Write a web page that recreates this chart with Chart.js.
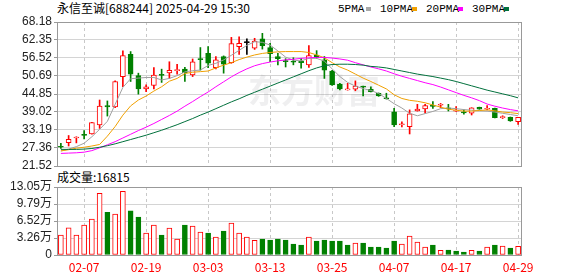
<!DOCTYPE html>
<html>
<head>
<meta charset="utf-8">
<script src="https://cdn.jsdelivr.net/npm/chart.js@4.4.1/dist/chart.umd.min.js"></script>
<style>
  body { margin: 0; background: #fff; width: 578px; height: 276px; overflow: hidden; position: relative; }
  canvas { position: absolute; left: 0; }
  #kline { top: 0; }
  #vol { top: 176px; }
  .txt { position: absolute; font: 12px "Noto Sans CJK SC", sans-serif; color: #000; white-space: nowrap; line-height: 14px; }
  .leg { position: absolute; font: 11px "Liberation Mono", monospace; color: #000; line-height: 14px; top: 2px; }
  .sq { position: absolute; width: 5px; height: 4px; top: 7px; }
</style>
</head>
<body>
<div class="txt" style="left:57px; top:1px;">永信至诚[688244] 2025-04-29 15:30</div>
<div class="leg" style="left:338px;">5PMA</div><div class="sq" style="left:366px; background:#a8a8a8;"></div>
<div class="leg" style="left:380px;">10PMA</div><div class="sq" style="left:412px; background:#f0a000;"></div>
<div class="leg" style="left:426px;">20PMA</div><div class="sq" style="left:458px; background:#ff00ff;"></div>
<div class="leg" style="left:472px;">30PMA</div><div class="sq" style="left:504px; background:#00703c;"></div>
<div class="txt" style="left:57px; top:170px;">成交量:16815</div>
<canvas id="kline" width="578" height="176"></canvas>
<canvas id="vol" width="578" height="100"></canvas>
<script>
// trading days shown
const dates = ['01-27','02-05','02-06','02-07','02-10','02-11','02-12','02-13','02-14','02-17',
  '02-18','02-19','02-20','02-21','02-24','02-25','02-26','02-27','02-28','03-03',
  '03-04','03-05','03-06','03-07','03-10','03-11','03-12','03-13','03-14','03-17',
  '03-18','03-19','03-20','03-21','03-24','03-25','03-26','03-27','03-28','03-31',
  '04-01','04-02','04-03','04-07','04-08','04-09','04-10','04-11','04-14','04-15',
  '04-16','04-17','04-18','04-21','04-22','04-23','04-24','04-25','04-28','04-29'];

const openP = [27.9,29.1,30.6,31.8,31.9,34.8,41.1,40.7,50.5,57.7,
  50.8,46.5,47.6,51.1,51.7,52.4,52.9,51.0,56.3,58.0,
  53.4,57.0,55.0,60.2,61.5,59.7,62.7,59.9,57.0,55.5,
  55.4,55.5,54.3,57.5,55.9,52.3,48.1,46.2,46.4,47.3,
  46.4,45.1,43.35,39.1,34.9,34.3,39.35,40.0,41.0,41.2,
  40.4,39.3,39.1,38.6,40.5,39.9,40.2,37.2,37.3,35.9];
const highP = [28.9,31.4,31.0,33.0,35.7,42.9,42.6,49.1,58.8,58.6,
  51.6,47.8,53.4,52.9,55.3,54.5,53.5,56.2,59.9,60.2,
  57.0,57.2,63.2,63.4,62.7,62.9,64.5,61.3,58.0,56.3,
  56.6,56.4,60.5,58.9,57.0,52.5,48.3,48.3,49.1,47.4,
  47.2,45.2,45.1,40.2,35.8,39.7,41.5,41.5,42.4,41.8,
  41.5,40.8,39.7,40.4,40.6,41.1,40.3,37.8,37.4,37.3];
const lowP = [27.2,28.0,29.0,30.3,31.8,33.7,37.7,40.4,47.2,48.9,
  44.8,45.6,46.5,48.6,49.9,51.3,48.9,50.5,52.6,53.4,
  53.0,51.6,54.8,57.7,57.7,59.3,59.4,55.3,54.3,53.6,
  54.3,53.2,53.5,56.4,49.9,47.6,46.2,46.1,45.9,44.2,
  45.5,44.1,43.2,34.3,34.2,31.9,39.3,38.6,40.2,40.4,
  39.35,39.2,38.3,38.05,39.9,39.7,37.1,36.9,36.0,35.0];
const closeP = [27.6,30.2,30.7,31.4,35.6,40.9,40.7,48.9,57.3,51.3,
  46.5,47.2,51.0,50.9,52.5,52.75,51.8,55.3,56.0,54.8,
  55.9,54.5,61.2,61.3,61.5,62.0,60.5,57.9,56.3,55.35,
  55.2,55.0,57.3,56.6,52.6,47.8,46.5,46.3,47.45,47.1,
  45.6,44.2,43.3,34.8,35.1,38.4,40.0,41.1,40.85,41.3,
  40.0,39.4,38.7,40.4,39.95,40.05,37.2,37.35,36.1,37.3];

const ma5 = [26.4,27.0,27.8,28.9,31.0,33.4,36.0,41.5,47.0,49.8,
  50.0,50.2,50.2,49.4,49.9,50.8,52.0,52.4,52.6,54.1,
  54.8,55.9,57.4,59.0,60.6,61.8,61.6,60.7,58.8,56.8,
  55.8,55.6,56.4,56.4,55.5,53.0,50.5,48.6,47.4,46.6,
  46.0,45.0,43.4,41.7,40.3,38.6,37.8,38.5,39.2,40.1,
  40.3,40.1,39.8,39.6,39.4,39.3,39.0,38.6,38.2,37.8];
const ma10 = [26.4,26.8,27.3,27.6,28.0,28.5,31.2,34.3,38.0,41.0,
  42.9,44.2,45.8,47.2,49.0,49.9,51.5,51.9,52.1,52.3,
  53.3,54.2,55.0,56.0,56.8,57.5,58.0,58.3,58.5,58.6,
  58.6,58.6,58.3,57.5,56.6,55.0,53.6,52.6,51.3,50.0,
  48.9,47.7,46.5,44.6,43.4,42.8,42.5,42.0,41.3,40.6,
  39.9,39.6,39.3,39.3,39.5,39.7,39.4,39.0,38.8,38.5];
const ma20 = [25.6,25.7,25.8,26.0,26.5,27.4,28.4,29.4,30.6,31.8,
  33.0,34.1,35.3,36.6,37.9,39.3,40.9,42.4,44.0,45.5,
  47.2,48.8,50.4,51.8,53.0,54.0,54.7,55.2,55.6,55.9,
  56.1,56.4,56.6,56.7,56.7,56.5,56.2,55.8,55.0,54.3,
  53.6,53.0,52.3,51.4,50.6,49.9,49.2,48.5,47.9,47.1,
  46.2,45.3,44.4,43.6,42.7,41.6,40.9,40.3,39.8,39.4];
const ma30 = [26.9,26.9,26.9,27.0,27.2,27.6,28.1,28.7,29.4,30.1,
  30.8,31.5,32.3,33.1,34.0,34.9,35.9,36.9,38.0,39.0,
  40.1,41.2,42.3,43.3,44.4,45.4,46.4,47.4,48.4,49.4,
  50.4,51.4,52.4,53.3,54.0,54.4,54.5,54.5,54.4,54.2,
  53.8,53.6,53.3,52.8,52.3,51.8,51.3,50.9,50.5,50.0,
  49.5,48.9,48.2,47.5,46.8,46.1,45.5,44.9,44.3,43.6];

const volume = [38200,52200,38200,57300,68800,118400,82100,78300,122200,84700,
  72600,42000,57300,38200,51600,30600,57300,55400,43900,42000,
  34400,45800,61100,42000,34400,28000,30600,28600,30600,28600,
  21000,19100,34400,26700,28600,26700,26700,19100,22900,22900,
  15300,15300,13400,26700,21000,36300,24800,15300,19100,8900,
  9500,7600,5700,8900,7600,15300,19100,17200,13400,16815];

const priceTicks = [21.52,27.36,33.19,39.02,44.85,50.69,56.52,62.35,68.18];
const volTicks = [0,32625,65250,97875,130500];
const volTickLabels = ['0','3.26万','6.52万','9.79万','13.05万'];

const RED = '#ff0000', GREEN = '#008000', BLACK = '#000000';
const candleColor = closeP.map((c, i) => c > openP[i] ? RED : (c < openP[i] ? GREEN : BLACK));
const volColor = closeP.map((c, i) => (i === 0 || c >= closeP[i - 1]) ? RED : GREEN);
const axisFont = { family: '"Liberation Sans", "Noto Sans CJK SC", sans-serif', size: 12 };
const showIdx = i => i % 8 === 3;

const framePlugin = {
  id: 'frame',
  afterDraw(chart) {
    const { ctx, chartArea: a } = chart;
    ctx.save();
    ctx.strokeStyle = '#999';
    ctx.lineWidth = 1;
    ctx.strokeRect(Math.round(a.left) + 0.5, Math.round(a.top) + 0.5,
      Math.round(a.right - a.left) - 1, Math.round(a.bottom - a.top));
    ctx.restore();
  }
};

const watermark = {
  id: 'watermark',
  beforeDatasetsDraw(chart) {
    const ctx = chart.ctx;
    ctx.save();
    ctx.fillStyle = 'rgba(120,120,135,0.12)';
    ctx.font = 'bold 33px "Noto Sans CJK SC"';
    ctx.textBaseline = 'middle';
    ctx.fillText('东方财富', 248, 90);
    ctx.restore();
  }
};

const xGrid = {
  offset: false,
  drawTicks: false,
  color: ctx => showIdx(ctx.index) ? '#c8c8c8' : 'rgba(0,0,0,0)'
};

new Chart(document.getElementById('kline'), {
  type: 'bar',
  data: {
    labels: dates,
    datasets: [
      { type: 'line', data: ma30, borderColor: '#00703c', borderWidth: 1, pointRadius: 0, order: 0 },
      { type: 'line', data: ma20, borderColor: '#ff00ff', borderWidth: 1, pointRadius: 0, order: 0 },
      { type: 'line', data: ma10, borderColor: '#f0a000', borderWidth: 1, pointRadius: 0, order: 0 },
      { type: 'line', data: ma5, borderColor: '#a0a0a0', borderWidth: 1, pointRadius: 0, order: 0 },
      {
        data: lowP.map((l, i) => [l, highP[i]]),
        backgroundColor: candleColor, barThickness: 1, grouped: false, order: 3
      },
      {
        data: openP.map((o, i) => [o, closeP[i]]),
        backgroundColor: candleColor.map(c => c === RED ? '#fff' : c),
        borderColor: candleColor, borderWidth: 1, borderSkipped: false,
        barThickness: 5, minBarLength: 1, grouped: false, order: 2
      }
    ]
  },
  options: {
    responsive: false,
    animation: false,
    layout: { padding: { top: 22, right: 56, bottom: 10, left: 0 } },
    plugins: { legend: { display: false }, tooltip: { enabled: false } },
    scales: {
      x: {
        offset: true,
        grid: xGrid,
        border: { display: false, dash: [3, 3] },
        ticks: { display: false },
        afterFit: s => { s.height = 0; }
      },
      y: {
        min: 21.52, max: 68.18,
        afterBuildTicks: s => { s.ticks = priceTicks.map(v => ({ value: v })); },
        afterFit: s => { s.width = 57; },
        ticks: { autoSkip: false, font: axisFont, color: '#222', padding: 2, callback: v => v.toFixed(2) },
        grid: { color: '#d4d4d4', tickColor: '#999', tickLength: 3 },
        border: { color: '#999' }
      }
    }
  },
  plugins: [watermark, framePlugin]
});

new Chart(document.getElementById('vol'), {
  type: 'bar',
  data: {
    labels: dates,
    datasets: [{
      data: volume,
      backgroundColor: volColor.map(c => c === RED ? '#fff' : c),
      borderColor: volColor, borderWidth: 1, borderSkipped: false,
      barThickness: 5
    }]
  },
  options: {
    responsive: false,
    animation: false,
    layout: { padding: { top: 11, right: 56, bottom: 0, left: 0 } },
    plugins: { legend: { display: false }, tooltip: { enabled: false } },
    scales: {
      x: {
        offset: true,
        grid: xGrid,
        border: { display: false, dash: [3, 3] },
        ticks: {
          autoSkip: false, maxRotation: 0, color: RED, padding: 5,
          font: { family: '"Noto Sans CJK SC", sans-serif', size: 12 },
          callback: (v, i) => showIdx(i) ? dates[i] : ''
        },
        afterFit: s => { s.height = 21; }
      },
      y: {
        min: 0, max: 130500,
        afterBuildTicks: s => { s.ticks = volTicks.map(v => ({ value: v })); },
        afterFit: s => { s.width = 57; },
        ticks: { autoSkip: false, font: axisFont, color: '#222', padding: 2, callback: (v, i) => volTickLabels[i] },
        grid: { color: '#d4d4d4', tickColor: '#999', tickLength: 3 },
        border: { color: '#999' }
      }
    }
  },
  plugins: [framePlugin]
});
</script>
</body>
</html>
